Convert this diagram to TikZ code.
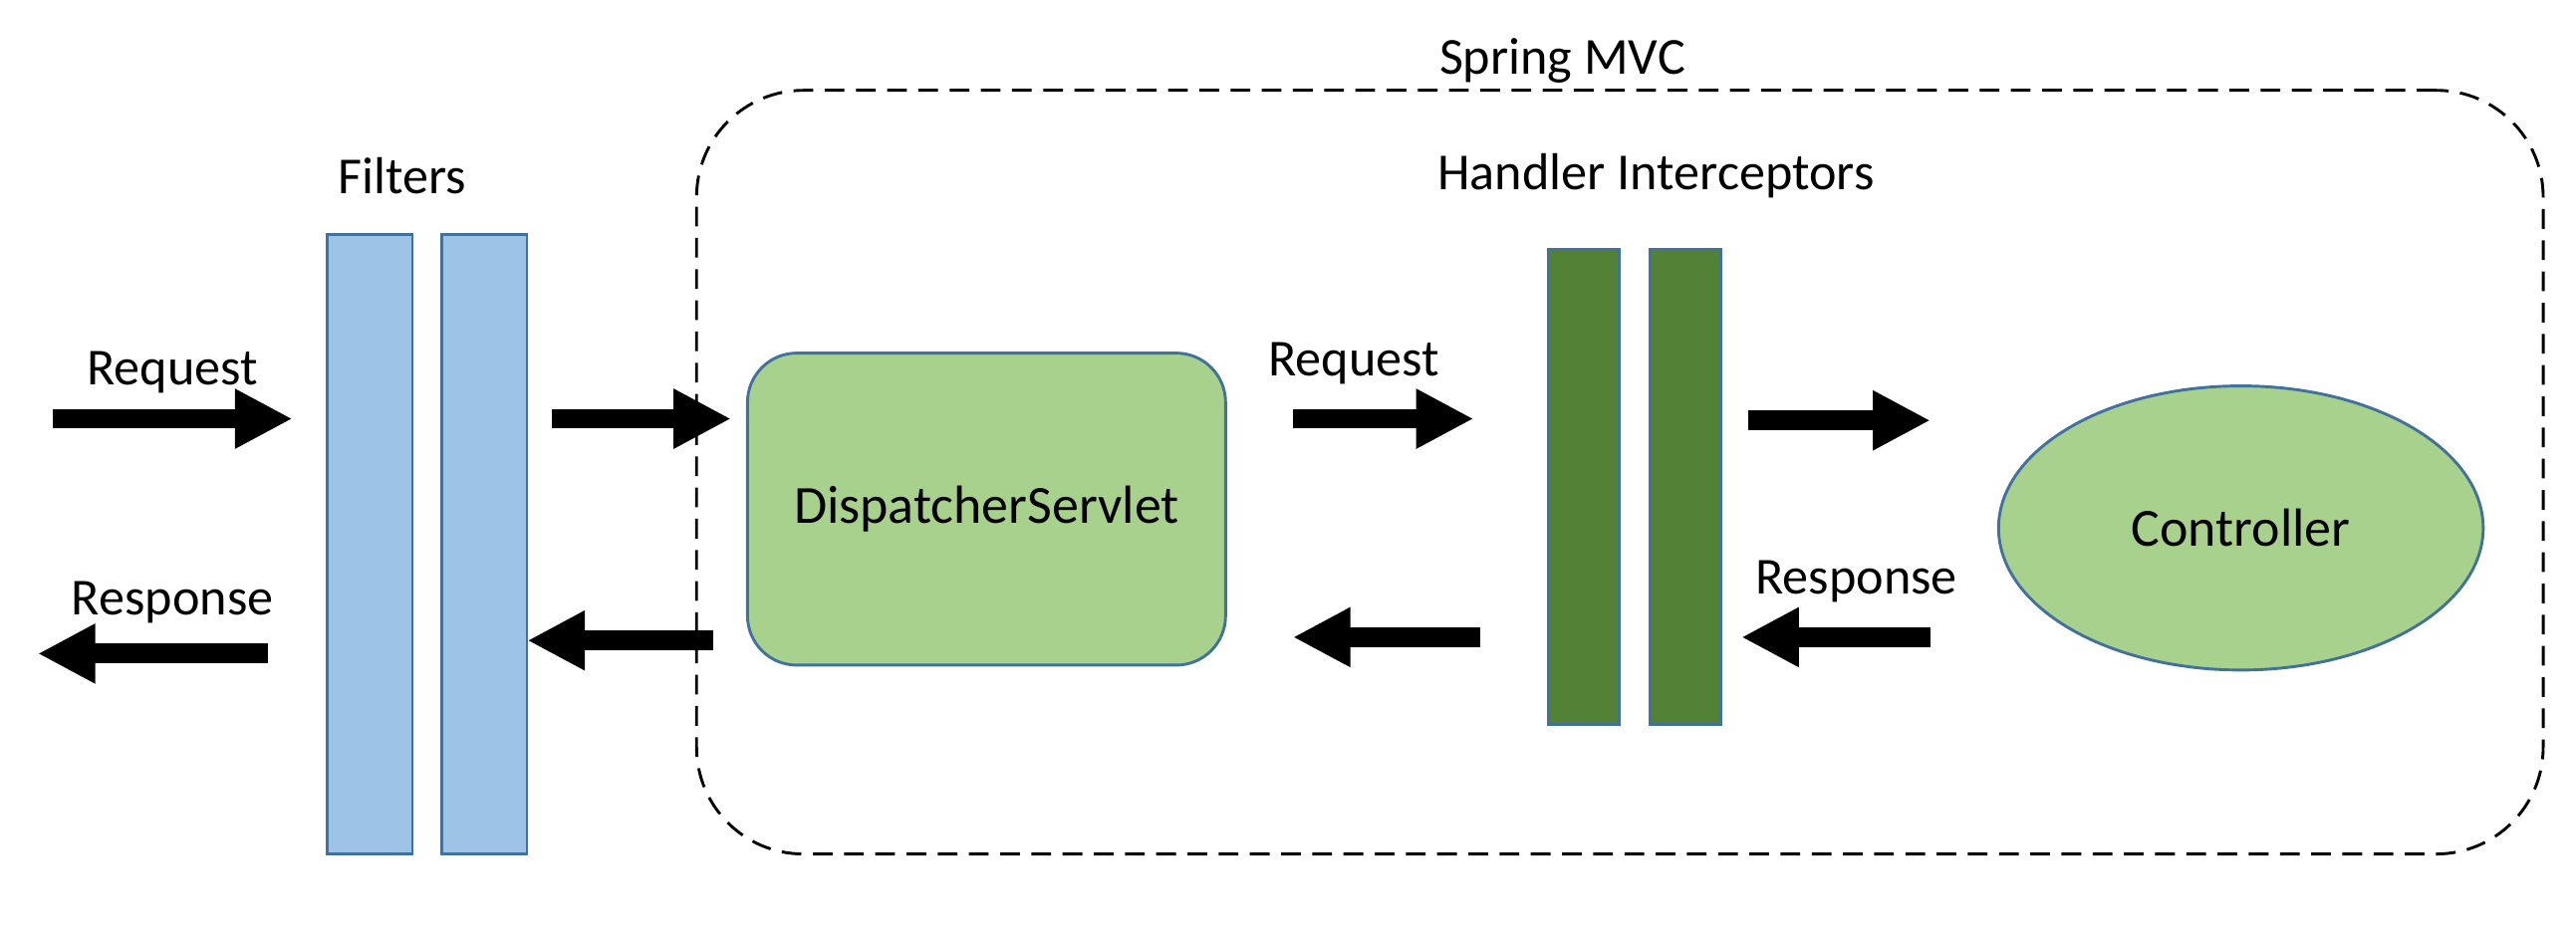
\documentclass[tikz,border=0pt]{standalone}
\usepackage{fontspec}
\setmainfont{Carlito}
\usetikzlibrary{positioning,arrows.meta,shapes.geometric}
\definecolor{fltblue}{HTML}{9DC3E6}
\definecolor{edgeblue}{HTML}{41719C}
\definecolor{lgreen}{HTML}{A9D18E}
\definecolor{dgreen}{HTML}{538135}
\tikzset{
  fbar/.style   = {draw=edgeblue, fill=fltblue, line width=0.5pt, inner sep=0pt,
                   minimum width=5.2mm, minimum height=37.7mm},
  hbar/.style   = {draw=edgeblue, fill=dgreen, line width=0.5pt, inner sep=0pt,
                   minimum width=4.3mm, minimum height=28.9mm},
  dsbox/.style  = {draw=edgeblue, fill=lgreen, line width=0.5pt, rounded corners=3mm,
                   minimum width=29.1mm, minimum height=19mm, inner sep=0pt,
                   font=\fontsize{9.3}{11}\selectfont},
  ctrl/.style   = {draw=edgeblue, fill=lgreen, line width=0.5pt, ellipse, inner sep=0pt,
                   minimum width=29.5mm, minimum height=17.3mm,
                   font=\fontsize{9.3}{11}\selectfont},
  mvc/.style    = {draw, line width=0.5pt, dash pattern=on 1.2mm off 0.7mm,
                   rounded corners=6.5mm, minimum width=112.4mm, minimum height=46.5mm},
  flow/.style   = {line width=1.2mm, -{Triangle[length=3.5mm,width=3.4mm]}},
  lbl/.style    = {font=\fontsize{9}{11}\selectfont, inner sep=0pt},
}
\begin{document}
\begin{tikzpicture}
  \useasboundingbox (0,0) rectangle (15.68,-5.75);
  % spring mvc frame
  \node[mvc] (mvc) at (9.86,-2.875) {};
  \node[lbl] (mvcl) at (9.51,-0.37) {Spring MVC};
  % filters
  \node[fbar] (f1) at (2.25,-3.315) {};
  \node[fbar, right=1.6mm of f1] (f2) {};
  \node[lbl] (fl) at (2.45,-1.07) {Filters};
  % dispatcher
  \node[dsbox] (ds) at (6.005,-3.10) {DispatcherServlet};
  % handler interceptors
  \node[hbar] (h1) at (9.64,-2.965) {};
  \node[hbar, right=1.7mm of h1] (h2) {};
  \node[lbl] (hl) at (10.08,-1.07) {Handler Interceptors};
  % controller
  \node[ctrl] (c) at (13.64,-3.215) {Controller};
  % arrow ends
  \coordinate (rqa) at (0.32,-2.55);  \coordinate (rqb) at (1.78,-2.55);
  \coordinate (rsa) at (1.63,-3.98);  \coordinate (rsb) at (0.23,-3.98);
  \coordinate (fa) at (3.36,-2.55);   \coordinate (fb) at (4.45,-2.55);
  \coordinate (ga) at (4.34,-3.90);   \coordinate (gb) at (3.21,-3.90);
  \coordinate (ha) at (7.87,-2.55);   \coordinate (hb) at (8.97,-2.55);
  \coordinate (ia) at (9.01,-3.88);   \coordinate (ib) at (7.87,-3.88);
  \coordinate (ja) at (10.64,-2.56);  \coordinate (jb) at (11.75,-2.56);
  \coordinate (ka) at (11.75,-3.88);  \coordinate (kb) at (10.60,-3.88);
  \draw[flow] (rqa) -- (rqb);
  \draw[flow] (rsa) -- (rsb);
  \draw[flow] (fa) -- (fb);
  \draw[flow] (ga) -- (gb);
  \draw[flow] (ha) -- (hb);
  \draw[flow] (ia) -- (ib);
  \draw[flow] (ja) -- (jb);
  \draw[flow] (ka) -- (kb);
  \node[lbl] (rql) at (1.05,-2.27) {Request};
  \node[lbl] (rsl) at (1.05,-3.67) {Response};
  \node[lbl] (hrq) at (8.24,-2.21) {Request};
  \node[lbl] (crs) at (11.30,-3.54) {Response};
\end{tikzpicture}
\end{document}
